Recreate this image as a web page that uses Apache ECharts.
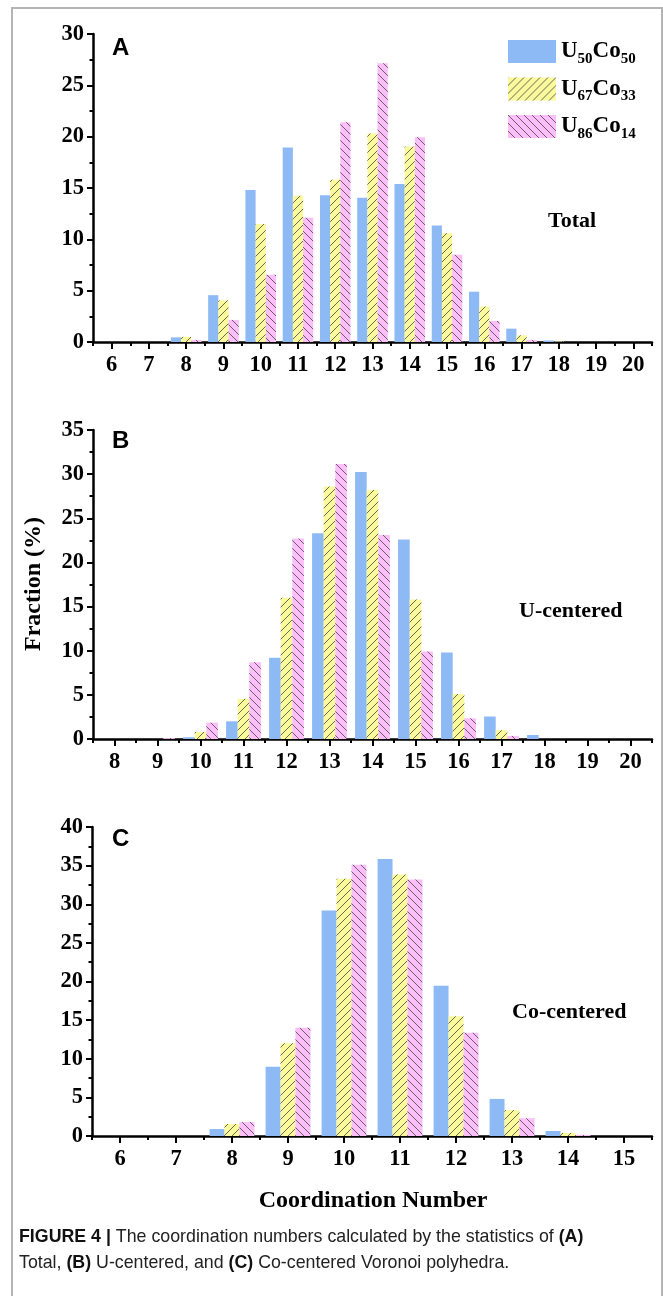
<!DOCTYPE html>
<html><head><meta charset="utf-8">
<script src="https://cdn.jsdelivr.net/npm/echarts@6/dist/echarts.min.js"></script>
<style>html,body{margin:0;padding:0;background:#fff}#c{width:663px;height:1296px}</style>
</head><body><div id="c"></div>
<script>
// ---- data ----
const seriesNames = ['U50Co50', 'U67Co33', 'U86Co14'];
const catsA = ['6','7','8','9','10','11','12','13','14','15','16','17','18','19','20'];
const a50 = [0, 0, 0.45, 4.56, 14.8, 18.95, 14.3, 14.05, 15.4, 11.35, 4.9, 1.3, 0.15, 0, 0];
const a67 = [0, 0, 0.5, 4.05, 11.5, 14.25, 15.8, 20.3, 19.05, 10.6, 3.45, 0.65, 0.05, 0, 0];
const a86 = [0, 0, 0.2, 2.15, 6.55, 12.1, 21.4, 27.15, 19.95, 8.5, 2.05, 0.2, 0, 0, 0];
const catsB = ['8','9','10','11','12','13','14','15','16','17','18','19','20'];
const b50 = [0, 0, 0.2, 2.0, 9.2, 23.3, 30.25, 22.6, 9.8, 2.55, 0.45, 0, 0];
const b67 = [0, 0, 0.8, 4.55, 16.0, 28.6, 28.2, 15.8, 5.1, 1.0, 0, 0, 0];
const b86 = [0, 0.1, 1.85, 8.7, 22.7, 31.15, 23.1, 9.9, 2.35, 0.35, 0, 0, 0];
const catsC = ['6','7','8','9','10','11','12','13','14','15'];
const c50 = [0, 0, 0.9, 8.95, 29.2, 35.85, 19.45, 4.8, 0.65, 0];
const c67 = [0, 0, 1.55, 12.0, 33.3, 33.85, 15.5, 3.35, 0.4, 0];
const c86 = [0, 0, 1.8, 14.0, 35.1, 33.2, 13.35, 2.3, 0.15, 0];
const yMaxA = 30, yMaxB = 35, yMaxC = 40, yStep = 5;

// ---- styles ----
const SERIF = '"Liberation Serif", "Times New Roman", serif';
const SANS = '"Liberation Sans", Arial, sans-serif';
function hatch(bg, dir) {
  const s = 8;
  const c = document.createElement('canvas');
  c.width = s; c.height = s;
  const g = c.getContext('2d');
  g.fillStyle = bg; g.fillRect(0, 0, s, s);
  g.strokeStyle = '#444'; g.lineWidth = 0.8;
  g.beginPath();
  if (dir > 0) {
    g.moveTo(0, s); g.lineTo(s, 0);
    g.moveTo(-1, 1); g.lineTo(1, -1);
    g.moveTo(s - 1, s + 1); g.lineTo(s + 1, s - 1);
  } else {
    g.moveTo(0, 0); g.lineTo(s, s);
    g.moveTo(s - 1, -1); g.lineTo(s + 1, 1);
    g.moveTo(-1, s - 1); g.lineTo(1, s + 1);
  }
  g.stroke();
  return { image: c, repeat: 'repeat' };
}
const colBlue = '#8dbaf5';
const colYellow = hatch('#fafa9c', 1);
const colPink = hatch('#fdbff9', -1);
const colors = [colBlue, colYellow, colPink];

const grids = [
  { left: 93, top: 34, width: 559, height: 308 },
  { left: 93, top: 430, width: 559, height: 309 },
  { left: 92, top: 827, width: 560, height: 309 }
];
const cats = [catsA, catsB, catsC];
const maxes = [yMaxA, yMaxB, yMaxC];
const datas = [[a50, a67, a86], [b50, b67, b86], [c50, c67, c86]];
const gaps = ['18%', '19%', '20%'];

const lbl = { fontFamily: SERIF, fontWeight: 'bold', fontSize: 22.5, color: '#000' };
const xAxes = [], yAxes = [], series = [];
grids.forEach((g, i) => {
  g.containLabel = false; g.outerBoundsMode = 'none';
  xAxes.push({
    type: 'category', gridIndex: i, data: cats[i], boundaryGap: true,
    axisLine: { show: true, lineStyle: { color: '#000', width: 2.5 } },
    axisTick: { show: true, alignWithLabel: true, interval: 0, length: 7, lineStyle: { color: '#000', width: 2 } },
    axisLabel: Object.assign({ interval: 0, margin: 12 }, lbl),
    splitLine: { show: false }
  });
  xAxes.push({
    type: 'category', gridIndex: i, data: cats[i], boundaryGap: true, position: 'bottom',
    axisLine: { show: false },
    axisTick: { show: true, interval: 0, length: 4, lineStyle: { color: '#000', width: 2 } },
    axisLabel: { show: false }, splitLine: { show: false }
  });
  yAxes.push({
    type: 'value', gridIndex: i, min: 0, max: maxes[i], interval: yStep,
    axisLine: { show: true, lineStyle: { color: '#000', width: 2.5 } },
    axisTick: { show: true, length: 6, lineStyle: { color: '#000', width: 2 } },
    minorTick: { show: true, splitNumber: 2, length: 3.5, lineStyle: { color: '#000', width: 2 } },
    axisLabel: Object.assign({ margin: 9 }, lbl),
    splitLine: { show: false }, minorSplitLine: { show: false }
  });
  datas[i].forEach((d, k) => {
    series.push({
      type: 'bar', name: seriesNames[k], xAxisIndex: i * 2, yAxisIndex: i, data: d,
      barGap: '0%', barCategoryGap: gaps[i],
      itemStyle: { color: colors[k] }, emphasis: { disabled: true }, animation: false
    });
  });
});

const subMap = { 'U50Co50': ['50', '50'], 'U67Co33': ['67', '33'], 'U86Co14': ['86', '14'] };
const textObj = (x, y, text, font, extra) => ({
  type: 'text', x: x, y: y,
  style: Object.assign({ text: text, font: font, fill: '#000', textVerticalAlign: 'middle' }, extra || {})
});

const option = {
  animation: false,
  backgroundColor: '#fff',
  grid: grids,
  xAxis: xAxes,
  yAxis: yAxes,
  series: series,
  legend: {
    show: true, orient: 'vertical', left: 503, top: 35, itemWidth: 48, itemHeight: 23, itemGap: 11,
    icon: 'rect', data: seriesNames, selectedMode: false,
    formatter: n => '{b|U}{s|' + subMap[n][0] + '}{b|Co}{s|' + subMap[n][1] + '}',
    textStyle: {
      rich: {
        b: { fontFamily: SERIF, fontWeight: 'bold', fontSize: 23, color: '#000', lineHeight: 30, verticalAlign: 'middle' },
        s: { fontFamily: SERIF, fontWeight: 'bold', fontSize: 15, color: '#000', lineHeight: 10, verticalAlign: 'bottom' }
      }
    }
  },
  graphic: [
    { type: 'rect', shape: { x: 12, y: 8, width: 650, height: 1300 }, style: { fill: 'none', stroke: '#b4b4b4', lineWidth: 2 }, silent: true },
    textObj(112, 48, 'A', 'bold 24px ' + SANS),
    textObj(112, 441, 'B', 'bold 24px ' + SANS),
    textObj(112, 839, 'C', 'bold 24px ' + SANS),
    textObj(548, 221, 'Total', 'bold 22px ' + SERIF),
    textObj(519, 611, 'U-centered', 'bold 22px ' + SERIF),
    textObj(512, 1012, 'Co-centered', 'bold 22px ' + SERIF),
    { type: 'text', x: 34, y: 584, rotation: Math.PI / 2,
      style: { text: 'Fraction (%)', font: 'bold 24px ' + SERIF, fill: '#000', textAlign: 'center', textVerticalAlign: 'middle' } },
    textObj(373, 1201, 'Coordination Number', 'bold 24px ' + SERIF, { textAlign: 'center' }),
    { type: 'text', x: 19, y: 1224,
      style: {
        text: '{b|FIGURE 4 |} The coordination numbers calculated by the statistics of {b|(A)}\nTotal, {b|(B)} U-centered, and {b|(C)} Co-centered Voronoi polyhedra.',
        font: '17.8px ' + SANS, fill: '#222', lineHeight: 26,
        rich: { b: { fontWeight: 'bold', fontFamily: SANS, fontSize: 17.8, fill: '#111', lineHeight: 26 } }
      } }
  ]
};
const chart = echarts.init(document.getElementById('c'), null, { renderer: 'canvas' });
chart.setOption(option);
</script>
</body></html>
